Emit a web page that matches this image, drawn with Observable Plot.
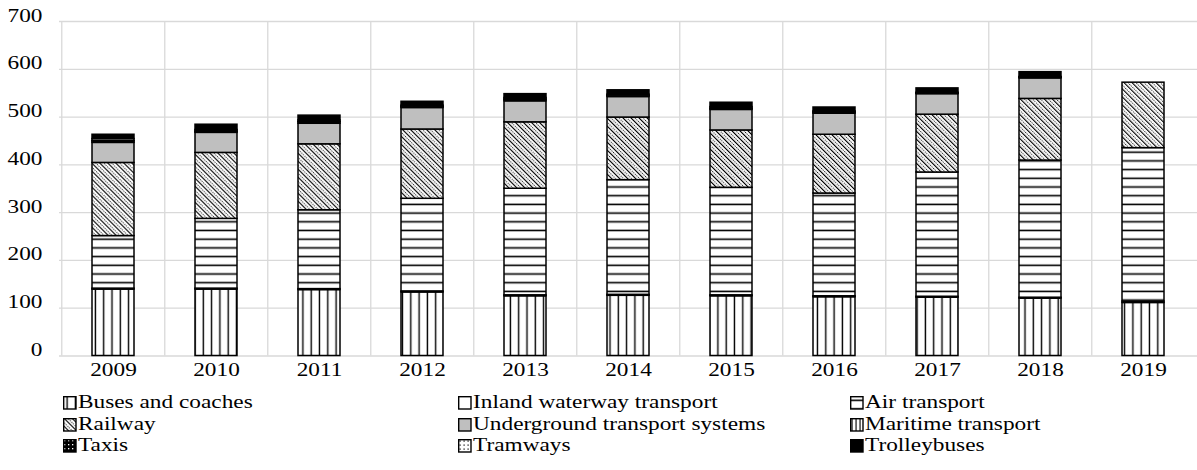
<!DOCTYPE html>
<html>
<head>
<meta charset="utf-8">
<script src="https://cdn.jsdelivr.net/npm/d3@7"></script>
<script src="https://cdn.jsdelivr.net/npm/@observablehq/plot@0.6"></script>
<style>
  html, body { margin: 0; padding: 0; background: #fff; }
  #wrap { position: relative; width: 1197px; height: 470px; overflow: hidden; font-family: "Liberation Serif", "Times New Roman", serif; }
  .leg { position: absolute; height: 21px; line-height: 21px; white-space: nowrap; font-size: 18.5px; color: #000; }
  .leg svg { position: absolute; left: 0; top: 4px; }
  .leg span { position: absolute; left: 15px; top: 0; display: inline-block; transform: scaleX(1.26); transform-origin: left center; }
</style>
</head>
<body>
<div id="wrap"></div>
<script>
// ---- data ----
const years = ["2009","2010","2011","2012","2013","2014","2015","2016","2017","2018","2019"];
const seriesNames = ["Buses and coaches","Inland waterway transport","Air transport","Railway","Underground transport systems","Maritime transport","Taxis","Tramways","Trolleybuses"];
const buses        = [139, 139, 138, 133, 125, 126, 125, 123, 122, 120, 111];
const inland       = [2, 2, 2, 2, 2, 2, 2, 2, 2, 2, 3];
const air          = [110, 146, 165, 194, 223, 240, 225, 215, 260, 287, 321];
const railway      = [153, 138, 138, 145, 139, 131, 120, 123, 121, 129, 137];
const underground  = [42, 42, 43, 45, 44, 43, 43, 44, 43, 43, 0];
const maritime     = [3, 2, 3, 2, 3, 2, 2, 2, 1, 1, 0];
const taxis        = [1, 1, 1, 1, 1, 1, 1, 1, 1, 1, 0];
const tramways     = [4, 3, 3, 2, 3, 2, 3, 2, 1, 1, 0];
const trolleybuses = [9, 11, 10, 8, 8, 9, 9, 8, 9, 10, 0];
const yTicks = [0, 100, 200, 300, 400, 500, 600, 700];

const seriesValues = [buses, inland, air, railway, underground, maritime, taxis, tramways, trolleybuses];
const fills = ["url(#pBus)", "white", "url(#pAir)", "url(#pRail)", "#bfbfbf", "url(#pMar)", "url(#pTaxi)", "url(#pTram)", "black"];

const data = years.flatMap((yr, i) => seriesNames.map((name, k) => ({year: yr, mode: name, value: seriesValues[k][i]})));

const W = 1197, H = 392, ML = 59, MR = 0, MT = 21, MB = 36.5;
const step = (W - ML - MR) / years.length;

const svg = Plot.plot({
  width: W, height: H,
  marginLeft: ML, marginRight: MR, marginTop: MT, marginBottom: MB,
  style: {fontFamily: "'Liberation Serif', 'Times New Roman', serif", fontSize: "18.5px", color: "#000", background: "#fff"},
  x: {domain: years, paddingInner: 0.59, paddingOuter: 0.295, tickSize: 0, tickPadding: 20, label: null},
  y: {domain: [0, 700], ticks: yTicks, tickSize: 0, tickPadding: 17, label: null},
  color: {type: "ordinal", domain: seriesNames, range: fills},
  marks: [
    Plot.ruleY(yTicks, {y: d => d, stroke: "#d9d9d9", strokeWidth: 1.3}),
    Plot.ruleX(years, {x: d => d, dx: -step / 2, stroke: "#d9d9d9", strokeWidth: 1.3}),
    Plot.barY(data, {x: "year", y: "value", fill: "mode", order: seriesNames, stroke: "black", strokeWidth: 1.5})
  ]
});

// patterns
const defs = d3.select(svg).insert("defs", ":first-child");
function pat(id, w, h, build, transform) {
  const p = defs.append("pattern").attr("id", id).attr("patternUnits", "userSpaceOnUse").attr("width", w).attr("height", h);
  if (transform) p.attr("patternTransform", transform);
  build(p);
}
pat("pBus", 8.3, 10, p => {
  p.append("rect").attr("width", 8.3).attr("height", 10).attr("fill", "white");
  p.append("rect").attr("x", 3.4).attr("width", 1.4).attr("height", 10).attr("fill", "black");
});
pat("pAir", 10, 8.7, p => {
  p.append("rect").attr("width", 10).attr("height", 8.7).attr("fill", "white");
  p.append("rect").attr("y", 3.5).attr("width", 10).attr("height", 1.6).attr("fill", "black");
});
pat("pRail", 5.66, 4.4, p => {
  p.append("rect").attr("width", 5.66).attr("height", 4.4).attr("fill", "white");
  p.append("rect").attr("x", 0).attr("width", 1.15).attr("height", 4.4).attr("fill", "black");
  p.append("line").attr("x1", 3.4).attr("x2", 3.4).attr("y1", 0).attr("y2", 4.4)
    .attr("stroke", "black").attr("stroke-width", 0.9).attr("stroke-dasharray", "1.1 1.1");
}, "rotate(-45)");
pat("pMar", 4, 10, p => {
  p.append("rect").attr("width", 4).attr("height", 10).attr("fill", "white");
  p.append("rect").attr("x", 1.5).attr("width", 1.1).attr("height", 10).attr("fill", "black");
});
pat("pTaxi", 4, 4, p => {
  p.append("rect").attr("width", 4).attr("height", 4).attr("fill", "black");
  p.append("rect").attr("x", 1).attr("y", 1).attr("width", 1.3).attr("height", 1.3).attr("fill", "white");
});
pat("pTram", 4, 4, p => {
  p.append("rect").attr("width", 4).attr("height", 4).attr("fill", "white");
  p.append("rect").attr("x", 1.5).attr("y", 1.5).attr("width", 1.2).attr("height", 1.2).attr("fill", "black");
});

// horizontally widen tick labels to match the reference's letter shapes
d3.select(svg).selectAll("g[aria-label*='tick label'] text").each(function() {
  const t = this;
  if (t.hasAttribute("x") || t.hasAttribute("y")) {
    const x = +t.getAttribute("x") || 0, y = +t.getAttribute("y") || 0;
    t.removeAttribute("x"); t.removeAttribute("y");
    const prev = t.getAttribute("transform") || "";
    t.setAttribute("transform", `${prev} translate(${x},${y}) scale(1.26,1)`);
  } else {
    t.setAttribute("transform", `${t.getAttribute("transform") || ""} scale(1.26,1)`);
  }
});
const wrap = document.getElementById("wrap");
wrap.appendChild(svg);

// legend below the svg
const colX = [63, 458, 850];
const rowY = [392, 413.5, 435];
seriesNames.forEach((name, i) => {
  const item = document.createElement("div");
  item.className = "leg";
  item.style.left = colX[i % 3] + "px";
  item.style.top = rowY[Math.floor(i / 3)] + "px";
  item.style.width = "380px";
  item.innerHTML = `<svg width="14" height="14"><rect x="0.7" y="0.7" width="12.3" height="12.3" fill="${fills[i]}" stroke="black" stroke-width="1.4"></rect></svg><span></span>`;
  item.querySelector("span").textContent = name;
  wrap.appendChild(item);
});
</script>
</body>
</html>
